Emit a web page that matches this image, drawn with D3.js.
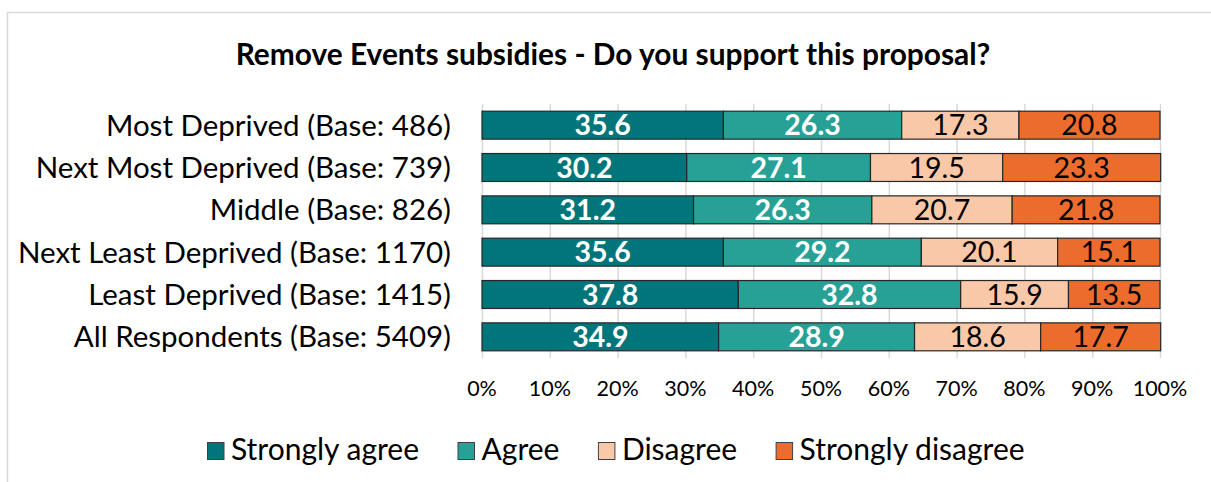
<!DOCTYPE html>
<html><head><meta charset="utf-8">
<script src="https://cdn.jsdelivr.net/npm/d3@7"></script>
<style>body{margin:0;background:#fff;}svg{display:block;}</style>
</head><body>
<svg id="chart" width="1211" height="482"></svg>
<script>
const title = "Remove Events subsidies - Do you support this proposal?";
const categories = ["Most Deprived (Base: 486)","Next Most Deprived (Base: 739)","Middle (Base: 826)","Next Least Deprived (Base: 1170)","Least Deprived (Base: 1415)","All Respondents (Base: 5409)"];
const seriesNames = ["Strongly agree","Agree","Disagree","Strongly disagree"];
const stronglyAgree = [35.6,30.2,31.2,35.6,37.8,34.9];
const agree = [26.3,27.1,26.3,29.2,32.8,28.9];
const disagree = [17.3,19.5,20.7,20.1,15.9,18.6];
const stronglyDisagree = [20.8,23.3,21.8,15.1,13.5,17.7];
const tickValues = [0,10,20,30,40,50,60,70,80,90,100];
const colors = ["#00767B","#27A195","#F9C8A8","#EC6C2D"];
const labelColors = ["#fff","#fff","#000","#000"];
const labelWeights = ["bold","bold","normal","normal"];

const svg = d3.select("#chart");
const font = "Lato, Carlito, Calibri, sans-serif";
svg.append("rect").attr("x",7.5).attr("y",12.5).attr("width",1220).attr("height",480)
  .attr("fill","#fff").attr("stroke","#d9d9d9").attr("stroke-width",1.5);

const tt = svg.append("text").attr("x",613).attr("y",65).attr("text-anchor","middle")
  .attr("font-family",font).attr("font-weight","bold").attr("font-size",29).text(title);
const tw = tt.node().getComputedTextLength();
if (tw > 0) tt.attr("font-size", 29*755/tw);

const x = d3.scaleLinear().domain([0,100]).range([482,1160]);
const y = d3.scaleBand().domain(categories).range([104,358]).paddingInner(0.34).paddingOuter(0.17);

svg.append("g").selectAll("line").data(tickValues).join("line")
  .attr("x1",d=>x(d)+0.5).attr("x2",d=>x(d)+0.5).attr("y1",104).attr("y2",358)
  .attr("stroke","#d9d9d9").attr("stroke-width",1.5);

const data = categories.map((c,i)=>({cat:c, vals:[stronglyAgree[i],agree[i],disagree[i],stronglyDisagree[i]]}));
const stack = d3.stack().keys([0,1,2,3]).value((d,k)=>d.vals[k]);
const stacked = stack(data);

stacked.forEach((layer,k)=>{
  const g = svg.append("g");
  g.selectAll("rect").data(layer).join("rect")
    .attr("x",d=>x(d[0])).attr("width",d=>x(d[1])-x(d[0]))
    .attr("y",d=>y(d.data.cat)).attr("height",y.bandwidth())
    .attr("fill",colors[k]).attr("stroke","#262626").attr("stroke-width",1.2);
  g.selectAll("text").data(layer).join("text")
    .attr("x",d=>(x(d[0])+x(d[1]))/2).attr("y",d=>y(d.data.cat)+y.bandwidth()/2+10)
    .attr("text-anchor","middle").attr("font-family",font).attr("font-size",28.5)
    .attr("font-weight",labelWeights[k]).attr("fill",labelColors[k])
    .text(d=>d.data.vals[k].toFixed(1));
});

svg.append("g").selectAll("text").data(categories).join("text")
  .attr("x",451).attr("y",d=>y(d)+y.bandwidth()/2+10.5).attr("text-anchor","end")
  .attr("font-family",font).attr("font-size",29.5).attr("fill","#000").text(d=>d);

svg.append("g").selectAll("text").data(tickValues).join("text")
  .attr("x",d=>x(d)).attr("y",396).attr("text-anchor","middle")
  .attr("font-family",font).attr("font-size",21.5).attr("fill","#000").text(d=>d+"%");

// legend
const leg = svg.append("g");
const items = leg.selectAll("g").data(seriesNames).join("g");
items.append("rect").attr("x",0.5).attr("width",16.5).attr("height",17).attr("y",442.5)
  .attr("fill",(d,i)=>colors[i]).attr("stroke","#404040").attr("stroke-width",1);
items.append("text").attr("x",24).attr("y",460).attr("font-family",font).attr("font-size",30)
  .attr("fill","#000").text(d=>d);
const gap = 39; const widths=[];
items.each(function(){ widths.push(this.getBBox().width); });
let start = 207;
items.attr("transform",(d,i)=>{ const t=`translate(${start},0)`; start += widths[i]+gap; return t; });
</script>
</body></html>
